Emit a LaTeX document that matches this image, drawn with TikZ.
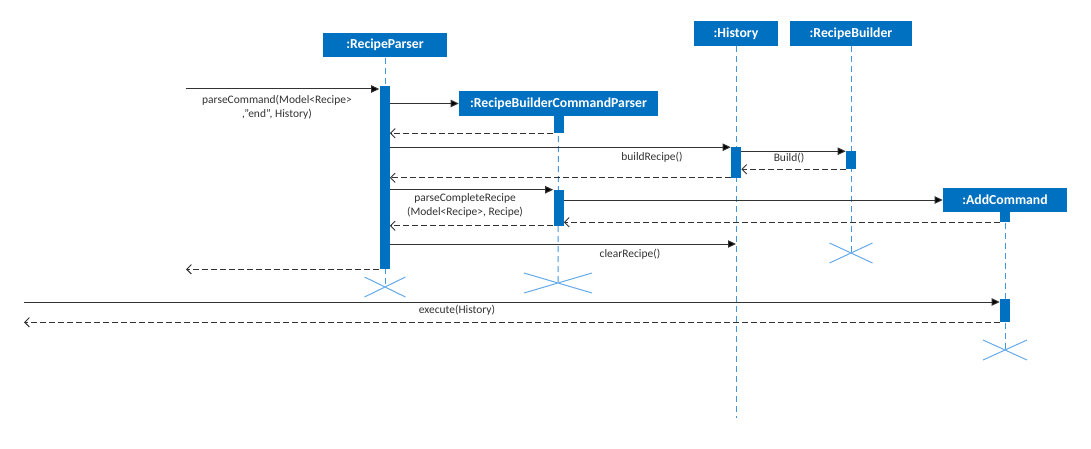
\documentclass[tikz,border=0pt]{standalone}
\usepackage{fontspec}
\setmainfont{Carlito}
\usetikzlibrary{arrows.meta,fit,shapes.misc}

\begin{document}
\begin{tikzpicture}[x=0.75pt,y=-0.75pt,
  obj/.style={fill=objblue,text=white,inner sep=0pt,minimum height=18.5pt,font=\fontsize{10.3}{12}\selectfont\bfseries},
  act/.style={fill=objblue,inner sep=0pt},
  life/.style={lifeblue,line width=0.75pt,dash pattern=on 4.5pt off 3pt},
  msg/.style={msggray,line width=0.75pt,-{Triangle[length=6pt,width=5.5pt,fill=black]}},
  ret/.style={msggray,line width=0.75pt,dash pattern=on 4.5pt off 2.25pt,-{Straight Barb[length=3.5pt,width=7pt]}},
  lbl/.style={text=msggray,inner sep=0pt,align=center,font=\fontsize{8.6}{10.5}\selectfont},
  kill/.style={cross out,draw=xblue,line width=0.75pt,inner sep=0pt}]
% Define sequence colours
\definecolor{objblue}{RGB}{0,112,192}
\definecolor{lifeblue}{RGB}{70,150,222}
\definecolor{xblue}{RGB}{100,170,232}
\definecolor{msggray}{RGB}{50,50,50}

\useasboundingbox (0,0) rectangle (1091,449);

% Draw objects
\node[obj,minimum width=93pt] (rp) at (385,45) {:RecipeParser};
\node[obj,minimum width=149.25pt] (rbcp) at (558.5,103.5) {:RecipeBuilderCommandParser};
\node[obj,minimum width=63pt] (hist) at (736,33.5) {:History};
\node[obj,minimum width=91.5pt] (rb) at (851,33.5) {:RecipeBuilder};
\node[obj,minimum width=93pt] (add) at (1005,200) {:AddCommand};

% Draw destroy marks
\node[kill,minimum width=30pt,minimum height=14.25pt] (rpX) at (385,287) {};
\node[kill,minimum width=50.25pt,minimum height=14.25pt] (rbcpX) at (558,283) {};
\node[kill,minimum width=31.5pt,minimum height=14.25pt] (rbX) at (851,253) {};
\node[kill,minimum width=32.25pt,minimum height=14.25pt] (addX) at (1005,350) {};

% Draw lifelines
\coordinate (histEnd) at (736,418);
\draw[life] (rp.south) -- (rpX.center);
\draw[life] (rbcp.south) -- (rbcpX.center);
\draw[life] (hist.south) -- (histEnd);
\draw[life] (rb.south) -- (rbX.center);
\draw[life] (add.south) -- (addX.center);

% Draw activations
\node[act,fit={(379.5,86) (389.5,269)}] (rpA) {};
\node[act,fit={(553.5,116) (563.5,133)}] (rbcpA1) {};
\node[act,fit={(731,147.5) (741,177.5)}] (histA) {};
\node[act,fit={(846,151.5) (856,169)}] (rbA) {};
\node[act,fit={(553.5,190) (563.5,225.5)}] (rbcpA2) {};
\node[act,fit={(1000,212) (1010,222)}] (addA1) {};
\node[act,fit={(1000,299) (1010,322)}] (addA2) {};

% Draw calls
\coordinate (inStart) at (186,89);
\coordinate (clearEnd) at (736,244);
\coordinate (exStart) at (24,302);
\draw[msg] (inStart) -- (inStart -| rpA.west);
\draw[msg] (rpA.east |- rbcp.west) -- (rbcp.west);
\draw[msg] (rpA.east |- histA.north) -- (histA.north west);
\draw[msg] (histA.east |- rbA.north) -- (rbA.north west);
\draw[msg] (rpA.east |- rbcpA2.north) -- (rbcpA2.north west);
\draw[msg] (rbcpA2.east |- add.west) -- (add.west);
\draw[msg] (rpA.east |- clearEnd) -- (clearEnd);
\draw[msg] (exStart) -- (exStart -| addA2.west);

% Draw returns
\coordinate (outEnd) at (186,268);
\coordinate (exEnd) at (24,322);
\draw[ret] (rbcpA1.south west) -- (rbcpA1.south west -| rpA.east);
\draw[ret] (rbA.south west) -- (rbA.south west -| histA.east);
\draw[ret] (histA.south west) -- (histA.south west -| rpA.east);
\draw[ret] (addA1.south west) -- (addA1.south west -| rbcpA2.east);
\draw[ret] (rbcpA2.south west) -- (rbcpA2.south west -| rpA.east);
\draw[ret] (rpA.south west) -- (rpA.south west -| outEnd);
\draw[ret] (addA2.south west) -- (addA2.south west -| exEnd);

% Add labels
\node[lbl] (lParse) at (277,107) {parseCommand(Model<Recipe>\\,"end", History)};
\node[lbl] (lBuildRecipe) at (652,157) {buildRecipe()};
\node[lbl] (lBuild) at (789,158.5) {Build()};
\node[lbl] (lComplete) at (465,205.5) {parseCompleteRecipe\\(Model<Recipe>, Recipe)};
\node[lbl] (lClear) at (630,254) {clearRecipe()};
\node[lbl] (lExec) at (457,310) {execute(History)};
\end{tikzpicture}
\end{document}
